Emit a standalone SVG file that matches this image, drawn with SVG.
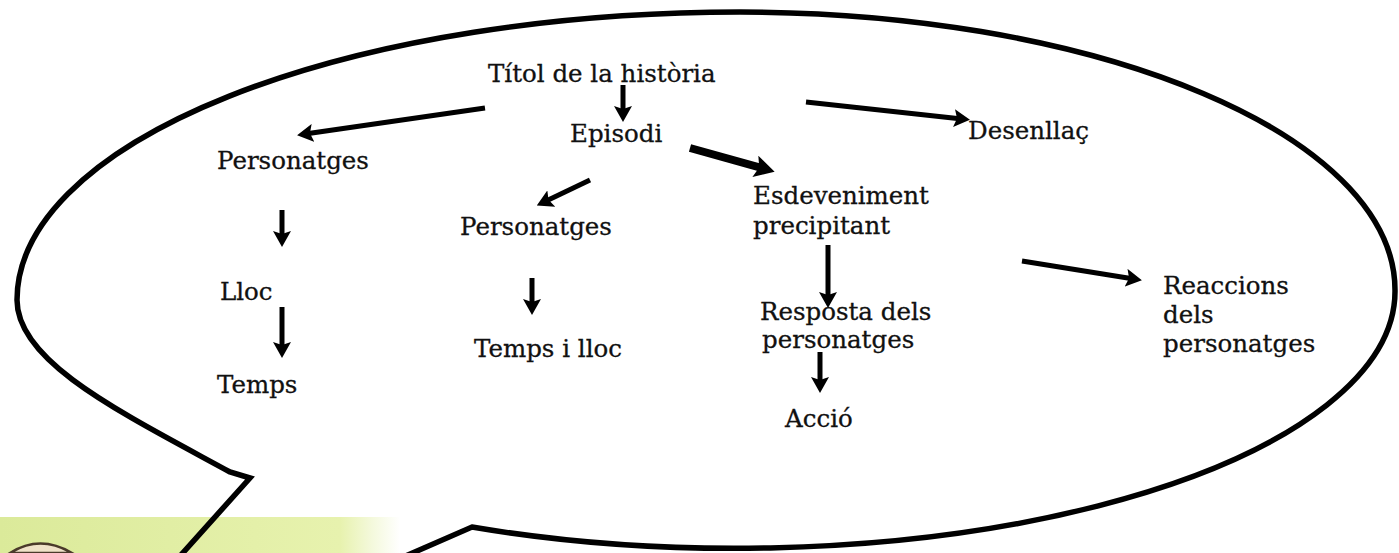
<svg xmlns="http://www.w3.org/2000/svg" width="1399" height="553" viewBox="0 0 1399 553">
  <style>
    .t { font-family: "DejaVu Serif", "Liberation Serif", serif; font-size: 24.5px; fill: #111; stroke: #111; stroke-width: 0.3; }
    .c { stroke: #000; stroke-width: 5; fill: none; marker-end: url(#ah); }
    .ck { stroke: #000; stroke-width: 8; fill: none; marker-end: url(#ahb); }
    .bubble { stroke: #000; stroke-width: 5.5; fill: none; stroke-linejoin: miter; }
  </style>
  <defs>
    <linearGradient id="band" x1="0" y1="0" x2="1" y2="0">
      <stop offset="0" stop-color="#dbea9a"/>
      <stop offset="0.85" stop-color="#e7f2ae"/>
      <stop offset="0.93" stop-color="#f4f9dc"/>
      <stop offset="1" stop-color="#ffffff"/>
    </linearGradient>
    <marker id="ah" markerUnits="userSpaceOnUse" viewBox="0 0 16 18" markerWidth="16" markerHeight="18" refX="8" refY="9" orient="auto">
      <path d="M0,0 L16,9 L0,18 L3,9 z" fill="#000"/>
    </marker>
    <marker id="ahb" markerUnits="userSpaceOnUse" viewBox="0 0 20 22" markerWidth="20" markerHeight="22" refX="10" refY="11" orient="auto">
      <path d="M0,0 L20,11 L0,22 L4,11 z" fill="#000"/>
    </marker>
  </defs>

  <rect width="1399" height="553" fill="#fff"/>

  <g id="background">
    <rect x="0" y="517" width="400" height="36" fill="url(#band)"/>
    <path d="M10,553 Q40,534 72,553 Z" fill="#efe2c8" stroke="#4a3a2a" stroke-width="2.5"/>
  </g>

  <g id="bubble">
    <path class="bubble" d="M385,565 L472,527
      A660 257 0 0 0 1395,290
      A655 278 0 0 0 740,12
      A723 288 0 0 0 17,300
      C17,362 120,412 230,472
      L250,478 L172,565"/>
  </g>

  <g id="connectors">
    <line class="c" x1="485" y1="108" x2="305" y2="134"/>
    <line class="c" x1="623" y1="85" x2="623" y2="114"/>
    <line class="c" x1="806" y1="102" x2="962" y2="119"/>
    <line class="ck" x1="690" y1="148" x2="765" y2="169"/>
    <line class="c" x1="590" y1="180" x2="544" y2="202"/>
    <line class="c" x1="282" y1="210" x2="282" y2="239"/>
    <line class="c" x1="282" y1="307" x2="282" y2="350"/>
    <line class="c" x1="532" y1="278" x2="532" y2="307"/>
    <line class="c" x1="828" y1="245" x2="828" y2="300"/>
    <line class="c" x1="820" y1="352" x2="820" y2="385"/>
    <line class="c" x1="1022" y1="261" x2="1134" y2="279"/>
  </g>

  <g id="titol"><text class="t" x="488" y="82">Títol de la història</text></g>
  <g id="episodi"><text class="t" x="570" y="142">Episodi</text></g>
  <g id="desenllac"><text class="t" x="968" y="139">Desenllaç</text></g>
  <g id="personatges1"><text class="t" x="217" y="169">Personatges</text></g>
  <g id="lloc"><text class="t" x="220" y="300">Lloc</text></g>
  <g id="temps"><text class="t" x="217" y="393">Temps</text></g>
  <g id="personatges2"><text class="t" x="460" y="235">Personatges</text></g>
  <g id="tempsilloc"><text class="t" x="474" y="357">Temps i lloc</text></g>
  <g id="esdeveniment">
    <text class="t" x="753" y="204">Esdeveniment</text>
    <text class="t" x="753" y="234">precipitant</text>
  </g>
  <g id="resposta">
    <text class="t" x="760" y="320">Resposta dels</text>
    <text class="t" x="762" y="348">personatges</text>
  </g>
  <g id="accio"><text class="t" x="785" y="427">Acció</text></g>
  <g id="reaccions">
    <text class="t" x="1163" y="294">Reaccions</text>
    <text class="t" x="1163" y="323">dels</text>
    <text class="t" x="1163" y="352">personatges</text>
  </g>
</svg>
